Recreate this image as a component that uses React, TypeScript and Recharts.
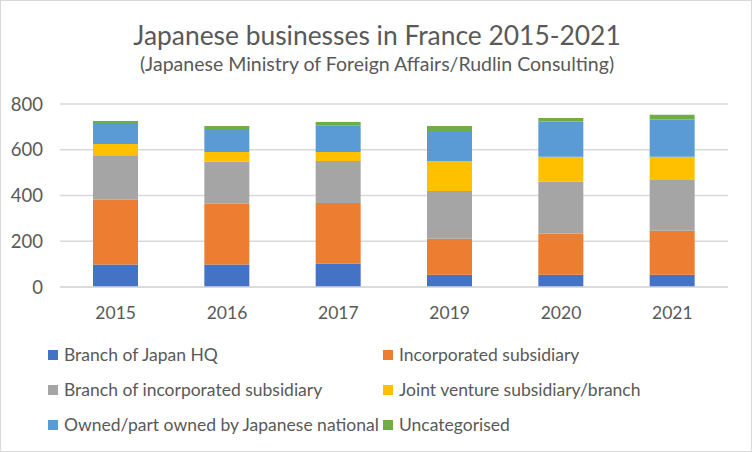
import React from "react";
import { BarChart, Bar, XAxis, YAxis, CartesianGrid } from "recharts";

const years = ["2015", "2016", "2017", "2019", "2020", "2021"];
const branchHQ = [98, 98, 102, 54, 54, 54];
const incorporated = [283, 266, 265, 157, 180, 192];
const branchIncorporated = [192, 183, 184, 209, 227, 222];
const jointVenture = [52, 43, 39, 131, 108, 101];
const ownedNational = [92, 101, 115, 131, 154, 163];
const uncategorised = [9, 13, 16, 22, 16, 21];
const yTicks = [0, 200, 400, 600, 800];

const SERIES = [
    { key: "branchHQ", name: "Branch of Japan HQ", color: "#4472C4" },
    { key: "incorporated", name: "Incorporated subsidiary", color: "#ED7D31" },
    { key: "branchIncorporated", name: "Branch of incorporated subsidiary", color: "#A5A5A5" },
    { key: "jointVenture", name: "Joint venture subsidiary/branch", color: "#FFC000" },
    { key: "ownedNational", name: "Owned/part owned by Japanese national", color: "#5B9BD5" },
    { key: "uncategorised", name: "Uncategorised", color: "#70AD47" },
];

const data = years.map((year, i) => ({
    year,
    branchHQ: branchHQ[i],
    incorporated: incorporated[i],
    branchIncorporated: branchIncorporated[i],
    jointVenture: jointVenture[i],
    ownedNational: ownedNational[i],
    uncategorised: uncategorised[i],
}));

const FONT = "Lato, 'Open Sans', sans-serif";
const TEXT = "#595959";

// legend drawn as plain html so it does not eat into the plot area
const ChartLegend = () => {
    return (
        <div
            style={{
                position: "absolute",
                top: 336,
                left: 47,
                display: "grid",
                gridTemplateColumns: "335px 320px",
                fontFamily: FONT,
                fontSize: 17.5,
                color: TEXT,
            }}
        >
            {SERIES.map((s) => (
                <div key={s.key} style={{ display: "flex", alignItems: "center", height: 35 }}>
                    <div style={{ width: 10, height: 10, background: s.color, marginRight: 6, flexShrink: 0 }} />
                    <span style={{ whiteSpace: "nowrap" }}>{s.name}</span>
                </div>
            ))}
        </div>
    );
};

export default function App() {
    return (
        <div
            style={{
                position: "relative",
                width: 752,
                height: 452,
                boxSizing: "border-box",
                border: "1px solid #D9D9D9",
                background: "#fff",
                overflow: "hidden",
            }}
        >
            <style>{"body{margin:0}"}</style>
            <div
                style={{
                    position: "absolute",
                    top: 0,
                    left: 0,
                    width: 752,
                    textAlign: "center",
                    fontFamily: FONT,
                    color: TEXT,
                }}
            >
                <div style={{ fontSize: 26.4, lineHeight: "26px", marginTop: 21 }}>
                    Japanese businesses in France 2015-2021
                </div>
                <div style={{ fontSize: 19.5, lineHeight: "20px", marginTop: 6 }}>
                    (Japanese Ministry of Foreign Affairs/Rudlin Consulting)
                </div>
            </div>
            <div style={{ position: "absolute", top: -1, left: -1 }}>
                <BarChart
                    width={752}
                    height={452}
                    data={data}
                    margin={{ top: 104, right: 24, bottom: 135, left: 10 }}
                >
                    <CartesianGrid vertical={false} stroke="#D9D9D9" strokeWidth={1.3} />
                    <XAxis
                        dataKey="year"
                        height={30}
                        axisLine={{ stroke: "#D9D9D9", strokeWidth: 1.3 }}
                        tickLine={false}
                        tickSize={0}
                        tickMargin={20}
                        tick={{ fill: TEXT, fontSize: 17.5, fontFamily: FONT }}
                    />
                    <YAxis
                        width={50}
                        domain={[0, 800]}
                        ticks={yTicks}
                        axisLine={false}
                        tickLine={false}
                        tickSize={0}
                        tickMargin={17}
                        tick={{ fill: TEXT, fontSize: 18.5, fontFamily: FONT }}
                    />
                    {SERIES.map((s) => (
                        <Bar
                            key={s.key}
                            dataKey={s.key}
                            name={s.name}
                            stackId="a"
                            fill={s.color}
                            barSize={45}
                            isAnimationActive={false}
                        />
                    ))}
                </BarChart>
            </div>
            <ChartLegend />
        </div>
    );
}
